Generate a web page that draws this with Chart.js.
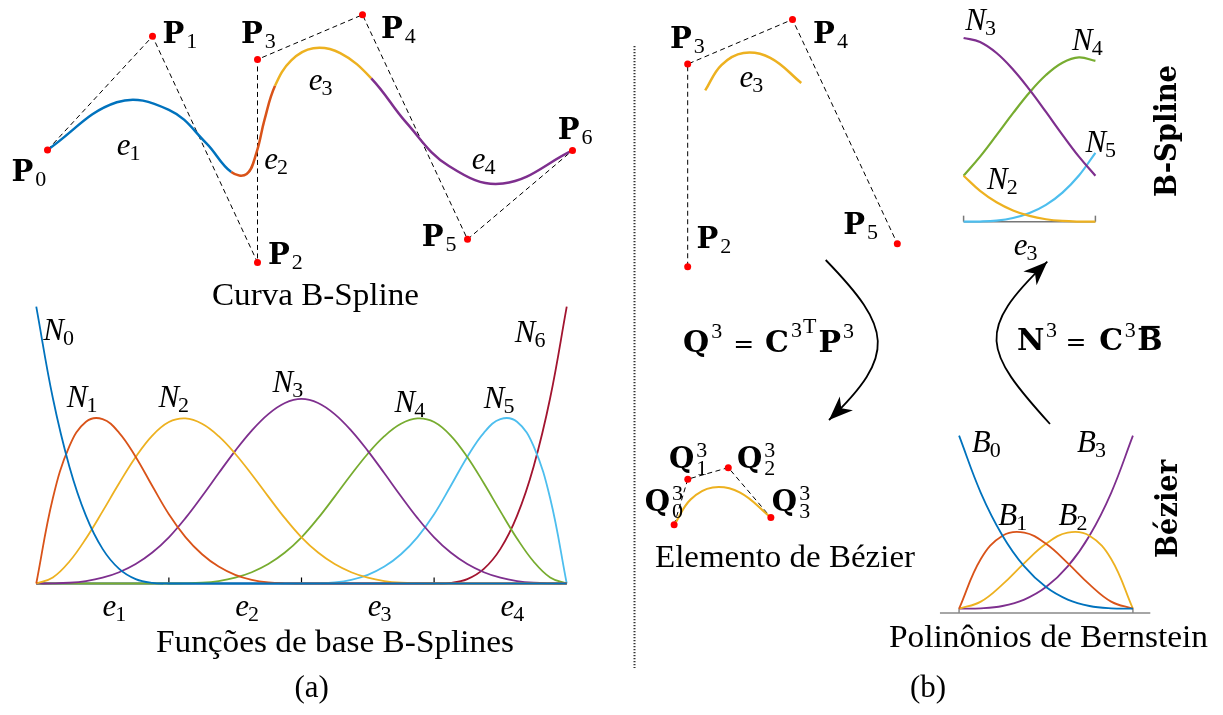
<!DOCTYPE html>
<html>
<head>
<meta charset="utf-8">
<script src="https://cdn.jsdelivr.net/npm/chart.js@4.4.1/dist/chart.umd.min.js"></script>
<style>
  html, body { margin: 0; padding: 0; background: #fff; }
  body { width: 1223px; height: 715px; position: relative; overflow: hidden; }
  canvas.panel { position: absolute; }
  #overlay { position: absolute; left: 0; top: 0; z-index: 10; pointer-events: none; }
</style>
</head>
<body>
<canvas id="overlay" width="1223" height="715"></canvas>
<script>
// control polygon of the B-spline curve
const ctrlX = [0, 2, 4, 4, 6, 8, 10];
const ctrlY = [2.14, 4.30, 0, 3.86, 4.71, 0.44, 2.13];
const ctrlNames = ['P_0', 'P_1', 'P_2', 'P_3', 'P_4', 'P_5', 'P_6'];

// curve read every quarter of a knot span (u = 0 .. 4)
const curveX = [0, 1.320, 2.312, 3.023, 3.500, 3.794, 3.979, 4.133, 4.334, 4.643, 5.063, 5.576, 6.167, 6.835, 7.646, 8.676, 10];
const curveY = [2.14, 3.046, 2.901, 2.270, 1.718, 1.682, 2.082, 2.710, 3.359, 3.842, 4.072, 3.979, 3.501, 2.658, 1.834, 1.501, 2.13];
const spanNames = ['e_1', 'e_2', 'e_3', 'e_4'];

// basis functions N0..N6, read every eighth of a span (u = 0 .. 4)
const knotU = [0, 0.125, 0.25, 0.375, 0.5, 0.625, 0.75, 0.875, 1, 1.125, 1.25, 1.375, 1.5, 1.625, 1.75, 1.875,
  2, 2.125, 2.25, 2.375, 2.5, 2.625, 2.75, 2.875, 3, 3.125, 3.25, 3.375, 3.5, 3.625, 3.75, 3.875, 4];
const knotTicks = [1, 2, 3];
const spanMid = [0.5, 1.5, 2.5, 3.5];
const N0 = [1, 0.6699, 0.4219, 0.2441, 0.125, 0.0527, 0.0156, 0.0020, 0, 0, 0, 0, 0, 0, 0, 0,
  0, 0, 0, 0, 0, 0, 0, 0, 0, 0, 0, 0, 0, 0, 0, 0, 0];
const N1 = [0, 0.3081, 0.4961, 0.5845, 0.5938, 0.5444, 0.4570, 0.3521, 0.25, 0.1675, 0.1055, 0.0610, 0.0313, 0.0132, 0.0039, 0.0005,
  0, 0, 0, 0, 0, 0, 0, 0, 0, 0, 0, 0, 0, 0, 0, 0, 0];
const N2 = [0, 0.0217, 0.0794, 0.1626, 0.2604, 0.3621, 0.4570, 0.5343, 0.5833, 0.5962, 0.5768, 0.5321, 0.4688, 0.3937, 0.3138, 0.2359,
  0.1667, 0.1117, 0.0703, 0.0407, 0.0208, 0.0088, 0.0026, 0.0003, 0, 0, 0, 0, 0, 0, 0, 0, 0];
const N3 = [0, 0.0003, 0.0026, 0.0088, 0.0208, 0.0407, 0.0703, 0.1117, 0.1667, 0.2360, 0.3151, 0.3981, 0.4792, 0.5524, 0.6120, 0.6520,
  0.6667, 0.6520, 0.6120, 0.5524, 0.4792, 0.3981, 0.3151, 0.2360, 0.1667, 0.1117, 0.0703, 0.0407, 0.0208, 0.0088, 0.0026, 0.0003, 0];
const N4 = [0, 0, 0, 0, 0, 0, 0, 0, 0, 0.0003, 0.0026, 0.0088, 0.0208, 0.0407, 0.0703, 0.1117,
  0.1667, 0.2359, 0.3138, 0.3937, 0.4688, 0.5321, 0.5768, 0.5962, 0.5833, 0.5343, 0.4570, 0.3621, 0.2604, 0.1626, 0.0794, 0.0217, 0];
const N5 = [0, 0, 0, 0, 0, 0, 0, 0, 0, 0, 0, 0, 0, 0, 0, 0,
  0, 0.0005, 0.0039, 0.0132, 0.0313, 0.0610, 0.1055, 0.1675, 0.25, 0.3521, 0.4570, 0.5444, 0.5938, 0.5845, 0.4961, 0.3081, 0];
const N6 = [0, 0, 0, 0, 0, 0, 0, 0, 0, 0, 0, 0, 0, 0, 0, 0,
  0, 0, 0, 0, 0, 0, 0, 0, 0, 0.0020, 0.0156, 0.0527, 0.125, 0.2441, 0.4219, 0.6699, 1];
const basisNames = ['N_0', 'N_1', 'N_2', 'N_3', 'N_4', 'N_5', 'N_6'];

// local parameter on span e3 (u = 2 .. 3)
const spanW = [0, 0.125, 0.25, 0.375, 0.5, 0.625, 0.75, 0.875, 1];

// Bezier element of e3
const bezX = [4.33, 4.59, 5.36, 6.17];
const bezY = [3.36, 4.23, 4.45, 3.50];
const bezNames = ['Q_0^3', 'Q_1^3', 'Q_2^3', 'Q_3^3'];

// cubic Bernstein polynomials
const bernT = [0, 0.125, 0.25, 0.375, 0.5, 0.625, 0.75, 0.875, 1];
const B0 = [1, 0.6699, 0.4219, 0.2441, 0.125, 0.0527, 0.0156, 0.0020, 0];
const B1 = [0, 0.2871, 0.4219, 0.4395, 0.375, 0.2637, 0.1406, 0.0410, 0];
const B2 = [0, 0.0410, 0.1406, 0.2637, 0.375, 0.4395, 0.4219, 0.2871, 0];
const B3 = [0, 0.0020, 0.0156, 0.0527, 0.125, 0.2441, 0.4219, 0.6699, 1];
const bernNames = ['B_0', 'B_1', 'B_2', 'B_3'];

// ---- styles ----
const col = {
  blue: '#0072BD', orange: '#D95319', yellow: '#EDB120', purple: '#7E2F8E',
  green: '#77AC30', cyan: '#4DBEEE', wine: '#A2142F', red: '#FF0000'
};
const segColors = [col.blue, col.orange, col.yellow, col.purple];
const F = {
  bold: 'bold 29px "DejaVu Serif"',
  eqBold: 'bold 30px "DejaVu Serif"',
  ital: 'italic 31px "Liberation Serif"',
  roman: '31px "Liberation Serif"',
  small: '22px "Liberation Serif"',
  eq: '25px "DejaVu Serif"'
};

function pts(xs, ys) {
  return xs.map((x, i) => ({ x: x, y: ys[i] }));
}

function parseSym(s) {
  const m = s.match(/^([^_^]+)(?:_([^^]+))?(?:\^(.+))?$/);
  return { base: m[1], sub: m[2] || '', sup: m[3] || '' };
}

function drawSym(ctx, s, x, y, style) {
  const p = parseSym(s);
  ctx.font = style === 'bold' ? F.bold : F.ital;
  ctx.fillText(p.base, x, y);
  const sx = x + ctx.measureText(p.base).width + (style === 'bold' ? 2 : -1);
  ctx.font = F.small;
  if (p.sup) {
    ctx.fillText(p.sup, sx, y - 11);
    ctx.fillText(p.sub, sx, y + 7);
  } else if (p.sub) {
    ctx.fillText(p.sub, sx, y + 5);
  }
}

// labels placed through the chart scales, dx/dy are pixel nudges
function labelPlugin(items) {
  return {
    id: 'symLabels',
    afterDatasetsDraw(chart) {
      const { ctx, scales: { x, y } } = chart;
      ctx.save();
      ctx.fillStyle = '#000';
      ctx.textAlign = 'left';
      ctx.textBaseline = 'alphabetic';
      items.forEach(it => {
        const px = x.getPixelForValue(it.at[0]) + (it.dx || 0);
        const py = y.getPixelForValue(it.at[1]) + (it.dy || 0);
        drawSym(ctx, it.text, px, py, it.style);
      });
      ctx.restore();
    }
  };
}

function axisPlugin(cfg) {
  return {
    id: 'axisLine',
    beforeDatasetsDraw(chart) {
      const { ctx, scales: { x, y } } = chart;
      const y0 = y.getPixelForValue(cfg.at);
      ctx.save();
      ctx.strokeStyle = cfg.color;
      ctx.lineWidth = cfg.width;
      ctx.beginPath();
      ctx.moveTo(x.getPixelForValue(cfg.from), y0);
      ctx.lineTo(x.getPixelForValue(cfg.to), y0);
      ctx.stroke();
      cfg.ticks.forEach(t => {
        const tx = x.getPixelForValue(t);
        ctx.beginPath();
        ctx.moveTo(tx, y0);
        ctx.lineTo(tx, y0 - cfg.tickLen);
        ctx.stroke();
      });
      ctx.restore();
    }
  };
}

const overlay = document.getElementById('overlay');

// geo: pixel of data origin (ox, oy), pixels per unit (kx, ky) and visible range
function panel(geo, datasets, plugins) {
  const pad = 30;
  const left = geo.ox + geo.xMin * geo.kx, right = geo.ox + geo.xMax * geo.kx;
  const top = geo.oy - geo.yMax * geo.ky, bottom = geo.oy - geo.yMin * geo.ky;
  const cv = document.createElement('canvas');
  cv.className = 'panel';
  cv.width = Math.round(right - left + 2 * pad);
  cv.height = Math.round(bottom - top + 2 * pad);
  cv.style.left = (left - pad) + 'px';
  cv.style.top = (top - pad) + 'px';
  cv.style.width = cv.width + 'px';
  cv.style.height = cv.height + 'px';
  document.body.insertBefore(cv, overlay);
  return new Chart(cv, {
    type: 'line',
    data: { datasets: datasets },
    options: {
      responsive: false,
      animation: false,
      devicePixelRatio: 1,
      events: [],
      layout: { padding: pad },
      plugins: { legend: { display: false }, tooltip: { enabled: false } },
      scales: {
        x: { type: 'linear', display: false, min: geo.xMin, max: geo.xMax },
        y: { type: 'linear', display: false, min: geo.yMin, max: geo.yMax }
      }
    },
    plugins: plugins
  });
}

function line(data, color, width, extra) {
  return Object.assign({
    data: data, borderColor: color, borderWidth: width, pointRadius: 0,
    fill: false, tension: 0, clip: false, order: 1
  }, extra || {});
}

function dashed(data) {
  return line(data, '#000', 1, { borderDash: [5, 3.5], order: 2 });
}

function dots(data) {
  return {
    data: data, showLine: false, pointRadius: 3.5, pointBorderWidth: 0,
    pointBackgroundColor: col.red, pointBorderColor: col.red, clip: false, order: 0
  };
}

// ---- (a) B-spline curve ----
const offA = [[-36, 31], [10, 7], [10.5, 1.5], [-16.5, -16], [18.5, 23], [-45.7, 6.7], [-14.7, -11.3]];
const eAnchorA = [[1.318, 2.048], [4.128, 1.781], [4.975, 3.286], [8.08, 1.775]];
panel(
  { ox: 47.8, oy: 261.5, kx: 52.5, ky: 52.5, xMin: -1, xMax: 11, yMin: -0.6, yMax: 5.2 },
  [
    dashed(pts(ctrlX, ctrlY)),
    line(pts(curveX, curveY), col.blue, 2.5, {
      tension: 0.4,
      segment: { borderColor: c => segColors[Math.min(3, Math.floor(c.p0DataIndex / 4))] }
    }),
    dots(pts(ctrlX, ctrlY))
  ],
  [labelPlugin(
    ctrlNames.map((s, i) => ({ text: s, style: 'bold', at: [ctrlX[i], ctrlY[i]], dx: offA[i][0], dy: offA[i][1] }))
      .concat(spanNames.map((s, i) => ({ text: s, style: 'ital', at: eAnchorA[i] })))
  )]
);

// ---- (a) basis functions ----
const basisSets = [N0, N1, N2, N3, N4, N5, N6];
const basisColors = [col.blue, col.orange, col.yellow, col.purple, col.green, col.cyan, col.wine];
const nAnchor = [[0.053, 0.881], [0.23, 0.639], [0.921, 0.639], [1.781, 0.693], [2.702, 0.621], [3.374, 0.635], [3.608, 0.874]];
panel(
  { ox: 36, oy: 584, kx: 132.5, ky: 277, xMin: -0.1, xMax: 4.1, yMin: -0.15, yMax: 1.1 },
  basisSets.map((v, i) => line(pts(knotU, v), basisColors[i], 1.8, { tension: 0.4 })),
  [
    axisPlugin({ at: 0, from: 0, to: 4, ticks: knotTicks, tickLen: 6, color: '#000', width: 1.2 }),
    labelPlugin(
      basisNames.map((s, i) => ({ text: s, style: 'ital', at: nAnchor[i] }))
        .concat(spanNames.map((s, i) => ({ text: s, style: 'ital', at: [spanMid[i], -0.119] })))
    )
  ]
);

// ---- (b) span e3 with its control points ----
const offB = { 2: [8.7, -18.7], 3: [-17.8, -16], 4: [20.6, 24], 5: [-54, -9.3] };
panel(
  { ox: 478.1, oy: 266.5, kx: 52.5, ky: 52.5, xMin: 3.3, xMax: 8.7, yMin: -0.5, yMax: 5.1 },
  [
    dashed(pts(ctrlX.slice(2, 6), ctrlY.slice(2, 6))),
    line(pts(curveX.slice(8, 13), curveY.slice(8, 13)), col.yellow, 2.5, { tension: 0.4 }),
    dots(pts(ctrlX.slice(2, 6), ctrlY.slice(2, 6)))
  ],
  [labelPlugin(
    [2, 3, 4, 5].map(i => ({ text: ctrlNames[i], style: 'bold', at: [ctrlX[i], ctrlY[i]], dx: offB[i][0], dy: offB[i][1] }))
      .concat([{ text: spanNames[2], style: 'ital', at: [4.989, 3.419] }])
  )]
);

// ---- (b) Bezier element ----
const offQ = [[-29.3, -14], [-18.7, -11.3], [8.7, 0.3], [1, -6.3]];
panel(
  { ox: 446.8, oy: 701.3, kx: 52.5, ky: 52.5, xMin: 3.7, xMax: 6.8, yMin: 2.9, yMax: 4.9 },
  [
    dashed(pts(bezX, bezY)),
    line(pts(curveX.slice(8, 13), curveY.slice(8, 13)), col.yellow, 2.2, { tension: 0.4 }),
    dots(pts(bezX, bezY))
  ],
  [labelPlugin(bezNames.map((s, i) => ({ text: s, style: 'bold', at: [bezX[i], bezY[i]], dx: offQ[i][0], dy: offQ[i][1] })))]
);

// ---- (b) B-spline functions on e3 (knot span 2..3 of the arrays above) ----
const e3Sets = [N2, N3, N4, N5].map(v => v.slice(16, 25));
const e3Colors = [col.yellow, col.purple, col.green, col.cyan];
const e3Anchor = [[0.178, 0.118], [0.013, 0.695], [0.823, 0.622], [0.924, 0.2525]];
panel(
  { ox: 963.3, oy: 221.7, kx: 131.7, ky: 276, xMin: -0.05, xMax: 1.05, yMin: -0.15, yMax: 0.75 },
  e3Sets.map((v, i) => line(pts(spanW, v), e3Colors[i], 2.2, { tension: 0.4 })),
  [
    axisPlugin({ at: 0, from: 0, to: 1, ticks: [0, 1], tickLen: 6, color: '#777', width: 1.5 }),
    labelPlugin(
      basisNames.slice(2, 6).map((s, i) => ({ text: s, style: 'ital', at: e3Anchor[i] }))
        .concat([{ text: spanNames[2], style: 'ital', at: [0.38, -0.121] }])
    )
  ]
);

// ---- (b) Bernstein polynomials ----
const bernSets = [B0, B1, B2, B3];
const bernColors = [col.blue, col.orange, col.yellow, col.purple];
const bAnchor = [[0.073, 0.908], [0.226, 0.485], [0.572, 0.485], [0.678, 0.908]];
panel(
  { ox: 959, oy: 609, kx: 173.7, ky: 173.3, xMin: -0.15, xMax: 1.15, yMin: -0.1, yMax: 1.05 },
  bernSets.map((v, i) => line(pts(bernT, v), bernColors[i], 1.8, { tension: 0.4 })),
  [
    axisPlugin({ at: -0.025, from: -0.11, to: 1.10, ticks: [0, 1], tickLen: 5, color: '#888', width: 1.5 }),
    labelPlugin(bernNames.map((s, i) => ({ text: s, style: 'ital', at: bAnchor[i] })))
  ]
);

// ---- page decorations: captions, equations, arrows ----
const ov = overlay.getContext('2d');
ov.fillStyle = '#000';

ov.save();
ov.strokeStyle = '#333';
ov.lineWidth = 2;
ov.setLineDash([1.2, 1.8]);
ov.beginPath();
ov.moveTo(634.5, 46);
ov.lineTo(634.5, 668);
ov.stroke();
ov.restore();

function caption(ctx, text, cx, base, width, font) {
  ctx.save();
  ctx.font = font || F.roman;
  const m = ctx.measureText(text).width;
  ctx.translate(cx, base);
  if (width) ctx.scale(width / m, 1);
  ctx.textAlign = 'center';
  ctx.fillText(text, 0, 0);
  ctx.restore();
}

caption(ov, 'Curva B-Spline', 315.5, 305, 207);
caption(ov, 'Funções de base B-Splines', 335, 652, 358);
caption(ov, '(a)', 311.7, 697);
caption(ov, 'Elemento de Bézier', 785, 567, 260);
caption(ov, 'Polinônios de Bernstein', 1048.5, 647, 319);
caption(ov, '(b)', 928, 697);

function vlabel(ctx, text, bx, cy, len) {
  ctx.save();
  ctx.font = F.bold;
  const m = ctx.measureText(text).width;
  ctx.translate(bx, cy);
  ctx.rotate(-Math.PI / 2);
  ctx.scale(len / m, 1);
  ctx.textAlign = 'center';
  ctx.fillText(text, 0, 0);
  ctx.restore();
}
vlabel(ov, 'B-Spline', 1176, 131, 132);
vlabel(ov, 'Bézier', 1177, 509, 98);

// equation laid out left to right: g = gap after the part, up = raise
function equation(ctx, parts, x, baseY) {
  ctx.textAlign = 'left';
  parts.forEach(p => {
    ctx.font = p.f;
    const y = baseY - (p.up || 0);
    ctx.fillText(p.t, x, y);
    const w = ctx.measureText(p.t).width;
    if (p.bar) {
      ctx.save();
      ctx.lineWidth = 2.2;
      ctx.beginPath();
      ctx.moveTo(x + 4, y - 23);
      ctx.lineTo(x + w - 3, y - 23);
      ctx.stroke();
      ctx.restore();
    }
    x += w + (p.g || 0);
  });
}
equation(ov, [
  { t: 'Q', f: F.eqBold, g: 2 }, { t: '3', f: F.small, up: 13.5, g: 11 },
  { t: '=', f: F.eq, g: 11 },
  { t: 'C', f: F.eqBold, g: 2 }, { t: '3', f: F.small, up: 15, g: 1 }, { t: 'T', f: F.small, up: 19, g: 2 },
  { t: 'P', f: F.eqBold, g: 2 }, { t: '3', f: F.small, up: 13.5 }
], 683, 351.5);
equation(ov, [
  { t: 'N', f: F.eqBold, g: 1.5 }, { t: '3', f: F.small, up: 13.5, g: 8.5 },
  { t: '=', f: F.eq, g: 13 },
  { t: 'C', f: F.eqBold, g: 1.5 }, { t: '3', f: F.small, up: 13.5, g: 1.5 },
  { t: 'B', f: F.eqBold, bar: true }
], 1017, 350);

function arrow(ctx, a, b, c, d) {
  ctx.save();
  ctx.strokeStyle = '#000';
  ctx.fillStyle = '#000';
  ctx.lineWidth = 1.8;
  ctx.beginPath();
  ctx.moveTo(a[0], a[1]);
  ctx.bezierCurveTo(b[0], b[1], c[0], c[1], d[0], d[1]);
  ctx.stroke();
  let ux = d[0] - c[0], uy = d[1] - c[1];
  const L = Math.hypot(ux, uy);
  ux /= L; uy /= L;
  const nx = -uy, ny = ux, len = 24, half = 9.5, notch = 17;
  ctx.beginPath();
  ctx.moveTo(d[0], d[1]);
  ctx.lineTo(d[0] - len * ux + half * nx, d[1] - len * uy + half * ny);
  ctx.lineTo(d[0] - notch * ux, d[1] - notch * uy);
  ctx.lineTo(d[0] - len * ux - half * nx, d[1] - len * uy - half * ny);
  ctx.closePath();
  ctx.fill();
  ctx.restore();
}
arrow(ov, [825.7, 260], [891.8, 328.2], [897.4, 354.4], [829, 420]);
arrow(ov, [1050, 424], [983, 350], [975.3, 330.7], [1047.3, 261.7]);
</script>
</body>
</html>
